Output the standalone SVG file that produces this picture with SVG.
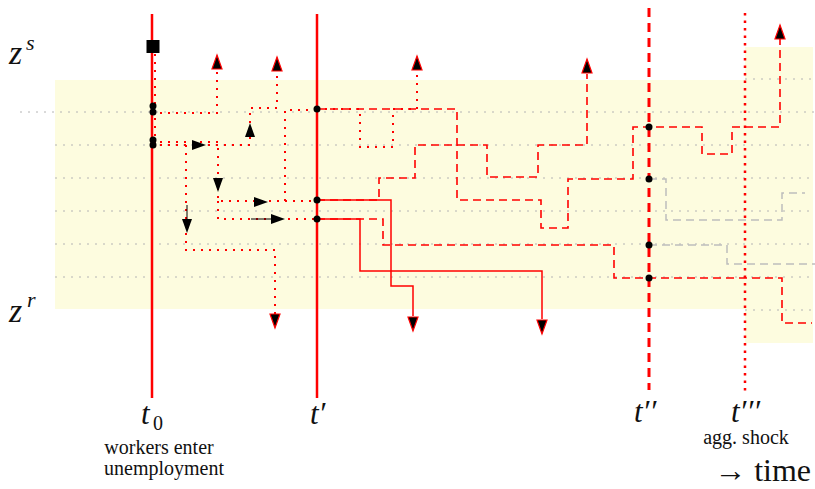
<svg xmlns="http://www.w3.org/2000/svg" xmlns:xlink="http://www.w3.org/1999/xlink" width="815" height="489" viewBox="0 0 815 489">
<style>
.bg{fill:#fdfcdf}
.grid{stroke:#b4b4b4;stroke-width:1;stroke-dasharray:2 6;fill:none}
.dot{fill:none;stroke:#ff0000;stroke-width:2;stroke-dasharray:2 6}
.dsh{fill:none;stroke:#ff0000;stroke-width:1.6;stroke-dasharray:8 5}
.sol{fill:none;stroke:#ff0000;stroke-width:1.5}
.gds{fill:none;stroke:#bdbdbd;stroke-width:1.5;stroke-dasharray:8 5}
.ah{fill:#000;stroke:#ff0000;stroke-width:1.2}
.am{fill:#000;stroke:none}
.pt{fill:#000}
text{font-family:"Liberation Serif","Times New Roman","DejaVu Serif",serif;fill:#111}
.it{font-style:italic}
</style>
<defs>
<polygon id="au" points="0,0 5,14 -5,14"/>
</defs>
<g id="background">
<rect class="bg" x="55" y="80" width="690" height="229"/>
<rect class="bg" x="745" y="47" width="68" height="296"/>
<path class="grid" d="M20,112H815M55,145H815M55,178H815M55,211H815M55,244H815M55,277H815M745,79H815M745,310H815"/>
</g>
<g id="time-lines">
<line x1="152" y1="14" x2="152" y2="398" stroke="#ff0000" stroke-width="2.5"/>
<line x1="317" y1="14" x2="317" y2="398" stroke="#ff0000" stroke-width="2.5"/>
<line x1="649" y1="8" x2="649" y2="390" stroke="#ff0000" stroke-width="3" stroke-dasharray="9 6"/>
<line x1="745" y1="13" x2="745" y2="392" stroke="#ff0000" stroke-width="2.5" stroke-dasharray="2.5 5"/>
</g>
<g id="connectors">
<path class="dot" d="M155,46V145"/>
<path class="dot" d="M152,113H217V69"/>
<path class="dot" d="M152,145H250V108H277V72"/>
<path class="dot" d="M152,142H218V201H317"/>
<path class="dot" d="M218,201V219H317"/>
<path class="dot" d="M186,145V250H275V314"/>
<path class="dot" d="M285,201V110H317"/>
<path class="dot" d="M317,109H360V147H393V109H417V71"/>
<path class="dsh" d="M317,109H457V200H541V228H568V179H633V127H702V154H732V127H780V39"/>
<path class="dsh" d="M317,200H379V178H415V145H487V177H538V145H587V74"/>
<path class="dsh" d="M317,219H383V245H614V278H782V323H812"/>
<path class="gds" d="M649,179H666V220H782V193H805"/>
<path class="gds" d="M649,245H727V264H815"/>
<path class="sol" d="M317,200H391V286H413V316"/>
<path class="sol" d="M317,219H360V271H542V319"/>
<line x1="187" y1="205" x2="187" y2="219" stroke="#000" stroke-width="1"/>
<line x1="251" y1="219" x2="272" y2="219" stroke="#000" stroke-width="1"/>
<use xlink:href="#au" class="ah" transform="translate(217,55)"/>
<use xlink:href="#au" class="ah" transform="translate(277,57)"/>
<use xlink:href="#au" class="ah" transform="translate(417,56)"/>
<use xlink:href="#au" class="ah" transform="translate(587,59)"/>
<use xlink:href="#au" class="ah" transform="translate(780,25)"/>
<use xlink:href="#au" class="ah" transform="translate(275,328) rotate(180)"/>
<use xlink:href="#au" class="ah" transform="translate(413,331) rotate(180)"/>
<use xlink:href="#au" class="ah" transform="translate(542,334) rotate(180)"/>
<use xlink:href="#au" class="am" transform="translate(206,145) rotate(90)"/>
<use xlink:href="#au" class="am" transform="translate(250,123)"/>
<use xlink:href="#au" class="am" transform="translate(218,192) rotate(180)"/>
<use xlink:href="#au" class="am" transform="translate(187,233) rotate(180)"/>
<use xlink:href="#au" class="am" transform="translate(268,202) rotate(90)"/>
<use xlink:href="#au" class="am" transform="translate(285,219) rotate(90)"/>
</g>
<g id="start-node">
<rect x="146.5" y="40" width="13" height="13" fill="#000"/>
</g>
<g id="points">
<circle class="pt" cx="153" cy="106" r="3.5"/>
<circle class="pt" cx="153" cy="112" r="3.5"/>
<circle class="pt" cx="153" cy="140" r="3.5"/>
<circle class="pt" cx="153" cy="145" r="3.5"/>
<circle class="pt" cx="317" cy="109" r="3.5"/>
<circle class="pt" cx="317" cy="200" r="3.5"/>
<circle class="pt" cx="317" cy="219" r="3.5"/>
<circle class="pt" cx="649" cy="127" r="3.5"/>
<circle class="pt" cx="649" cy="179" r="3.5"/>
<circle class="pt" cx="649" cy="245" r="3.5"/>
<circle class="pt" cx="649" cy="278" r="3.5"/>
</g>
<g id="labels">
<text class="it" x="9" y="64" font-size="34">z</text>
<text class="it" x="26" y="50" font-size="22">s</text>
<text class="it" x="9" y="322" font-size="34">z</text>
<text class="it" x="27" y="307" font-size="22">r</text>
<text class="it" x="141" y="424" font-size="31">t</text>
<text x="153" y="430" font-size="20">0</text>
<text class="it" x="310" y="424" font-size="31">t′</text>
<text class="it" x="634" y="422" font-size="31">t′′</text>
<text class="it" x="731" y="422" font-size="31">t′′′</text>
<text x="159" y="454" font-size="20" text-anchor="middle">workers enter</text>
<text x="164" y="475" font-size="20" text-anchor="middle">unemployment</text>
<text x="746" y="444" font-size="20" text-anchor="middle">agg. shock</text>
<text x="811" y="481" font-size="32" text-anchor="end">→ time</text>
</g>
</svg>
